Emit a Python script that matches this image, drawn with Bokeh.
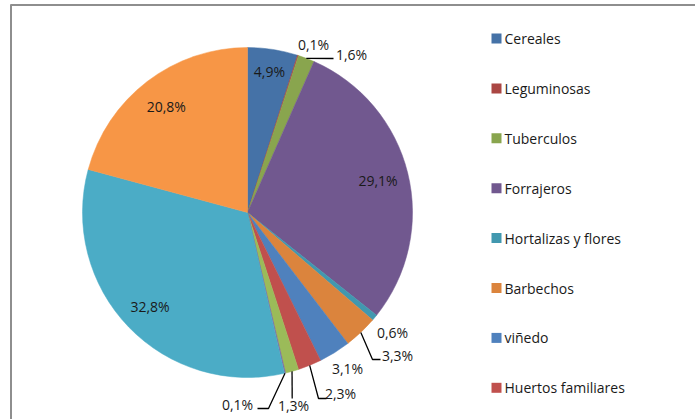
import math
from bokeh.plotting import figure
from bokeh.models import Range1d, ColumnDataSource
from bokeh.core.properties import value
from bokeh.embed import file_html
from bokeh.resources import INLINE

# ---- data ----
# legend names that are visible (the legend is cut off after the 8th entry)
categories = ["Cereales", "Leguminosas", "Tuberculos", "Forrajeros",
              "Hortalizas y flores", "Barbechos", "viñedo", "Huertos familiares"]
# slice shares in %, clockwise from 12 o'clock
shares = [4.9, 0.1, 1.6, 29.1, 0.6, 3.3, 3.1, 2.3, 1.3, 0.1, 32.8, 20.8]
colors = ["#4572A7", "#AA4643", "#89A54E", "#71588F", "#4198AF", "#DB843D",
          "#4F81BD", "#C0504D", "#9BBB59", "#8064A2", "#4BACC6", "#F79646"]

# ---- layout ----
W, H = 695, 419
FONT = value("Open Sans")
def Y(py):           # page pixel row -> data y
    return H - py

CX, CY, R = 247, Y(212), 165
INSIDE_R = {0: 0.865, 3: 0.815, 10: 0.82, 11: 0.81}
OUTSIDE_XY = {1: (313, 44), 2: (351, 54), 4: (392, 332), 5: (397, 355),
              6: (347, 368), 7: (340, 393), 8: (293, 405), 9: (237, 404)}
LEADERS = {2: [(333, 58)], 5: [(372, 359), (380, 359)],
           7: [(318, 398), (326, 398)], 8: [(291.7, 398)],
           9: [(268, 408), (257, 408)]}
LEG_X, LEG_Y0, LEG_DY = 496, 38, 49.9

p = figure(width=W, height=H, output_backend="svg", toolbar_location=None,
           x_range=Range1d(0, W), y_range=Range1d(0, H),
           min_border=0, outline_line_color=None)
p.axis.visible = False
p.grid.visible = False
p.background_fill_color = "white"
p.border_fill_color = "white"

# frame (top and left edges visible)
p.segment(x0=[10, 10.5], y0=[Y(4.5), Y(4)], x1=[W, 10.5], y1=[Y(4.5), Y(H)],
          line_color="#8e8e8e", line_width=2)

total = sum(shares)
starts, ends, mids = [], [], []
cum = 0.0
for s in shares:
    t1 = cum / total * 2 * math.pi
    cum += s
    t2 = cum / total * 2 * math.pi
    starts.append(math.pi / 2 - t2)
    ends.append(math.pi / 2 - t1)
    mids.append((t1 + t2) / 2)

src = ColumnDataSource(dict(start=starts, end=ends, color=colors))
p.wedge(x=CX, y=CY, radius=R, start_angle="start", end_angle="end",
        fill_color="color", line_color="color", line_width=0.5, source=src)

# data labels
lx, ly, lt = [], [], []
for i, s in enumerate(shares):
    txt = f"{s:.1f}".replace(".", ",") + "%"
    if i in INSIDE_R:
        r = R * INSIDE_R[i]
        x = CX + r * math.sin(mids[i])
        y = CY + r * math.cos(mids[i])
    else:
        px, py = OUTSIDE_XY[i]
        x, y = px, Y(py)
    lx.append(x); ly.append(y); lt.append(txt)
p.text(x=lx, y=ly, text=lt, text_font=FONT, text_font_size="14px",
       text_color="#1a1a1a", text_align="center", text_baseline="middle")

# leader lines
xs, ys = [], []
for i, pts in LEADERS.items():
    ex = CX + R * math.sin(mids[i])
    ey = CY + R * math.cos(mids[i])
    xs.append([ex] + [q[0] for q in pts])
    ys.append([ey] + [Y(q[1]) for q in pts])
p.multi_line(xs=xs, ys=ys, line_color="black", line_width=1.3)

# legend
gy = [Y(LEG_Y0 + k * LEG_DY) for k in range(len(categories))]
p.scatter(x=[LEG_X] * len(categories), y=gy, marker="square", size=10,
          fill_color=colors[:len(categories)], line_color=None)
p.text(x=[LEG_X + 8] * len(categories), y=gy, text=categories,
       text_font=FONT, text_font_size="14px", text_color="#1a1a1a",
       text_align="left", text_baseline="middle")

open("out.html", "w").write(file_html(p, INLINE))
